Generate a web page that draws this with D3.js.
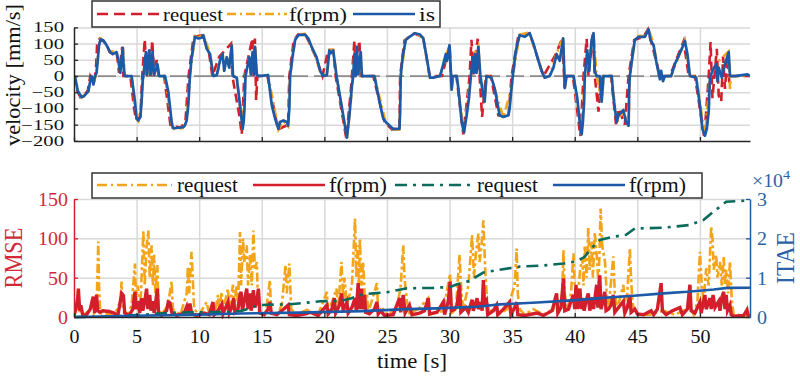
<!DOCTYPE html>
<html><head><meta charset="utf-8">
<script src="https://cdn.jsdelivr.net/npm/d3@7"></script>
<style>body{margin:0;background:#fff}svg{display:block}text{font-family:"Liberation Serif","Times New Roman",serif}</style>
</head><body><svg id="c" width="800" height="378"></svg>
<script>
// ---------- DATA ----------
const timeTicks = [0,5,10,15,20,25,30,35,40,45,50];
const velTicks = [-200,-150,-100,-50,0,50,100,150];
const rmseTicks = [0,50,100,150];
const itaeTicks = [0,10000,20000,30000];
const itaeTickLabels = ["0","1","2","3"];
const topLegend = ["request","f(rpm)","is"];
const bottomLegend = ["request","f(rpm)","request","f(rpm)"];

// velocity: request (red dashed)
const reqVel = [[0,0],[0.2,-40],[0.5,-65],[0.8,-60],[1.1,-45],[1.3,0],[1.6,-20],[1.75,20],[1.85,100],[2.05,115],[2.3,110],[2.6,95],[2.85,74],[3.1,68],[3.4,74],[3.6,10],[3.85,90],[3.95,0],[4.5,0],[4.8,-100],[4.95,-135],[5.3,-126],[5.45,0],[5.65,113],[5.8,0],[6.0,80],[6.1,0],[6.25,110],[6.4,0],[6.6,50],[6.75,0],[7.2,0],[7.7,-150],[8.5,-160],[8.9,-140],[9.15,0],[9.55,121],[10.3,126],[10.8,68],[11.05,0],[11.6,60],[12.55,100],[12.65,0],[13.2,-120],[13.4,-180],[13.6,0],[14.25,116],[14.35,0],[14.45,116],[14.55,-74],[14.65,0],[15.45,0],[16.3,-165],[17.1,-150],[17.2,0],[17.55,110],[17.9,128],[18.5,128],[19.3,60],[19.85,0],[20.3,80],[20.7,80],[20.9,0],[21.75,-192],[22.1,-50],[22.2,0],[22.4,110],[22.5,0],[22.8,110],[22.9,0],[23.9,0],[24.8,-140],[25.4,-165],[26.0,-160],[26.05,0],[26.4,110],[27.2,132],[27.9,118],[28.4,0],[29.4,0],[30.0,95],[30.15,-42],[30.25,0],[30.55,0],[31.1,-180],[31.6,0],[31.75,112],[31.9,0],[32.25,115],[32.4,0],[32.6,-126],[32.75,-60],[32.9,0],[33.3,0],[33.9,-121],[34.7,-126],[34.95,0],[35.5,126],[36.4,132],[37.5,0],[38.5,68],[39.0,116],[39.2,-37],[39.3,0],[39.85,0],[40.45,-185],[40.7,0],[40.95,115],[41.1,0],[41.45,132],[41.6,0],[41.9,-110],[42.05,0],[42.1,-79],[42.25,0],[42.9,0],[43.3,-150],[43.5,-100],[44.0,-150],[44.3,0],[44.75,111],[45.5,121],[45.85,144],[46.5,47],[46.8,0],[47.6,0],[48.7,108],[49.1,0],[49.6,0],[50.35,-190],[50.7,0],[50.85,105],[51.0,-68],[51.35,84],[51.5,-60],[51.7,-79],[51.85,60],[52.0,-40],[52.2,58],[52.35,-20],[52.45,0],[54,0]];

// velocity: f(rpm) (orange dash-dot)
const fVel = [[0,0],[0.3,-45],[0.6,-66],[1.15,-47],[1.4,0],[1.55,-26],[1.8,10],[2.0,97],[2.13,116],[2.34,112],[2.88,76],[3.4,76],[3.7,10],[3.9,88],[4.07,0],[4.6,0],[5.0,-133],[5.14,-139],[5.4,-79],[5.54,0],[5.75,76],[5.85,5],[6.02,80],[6.12,5],[6.28,76],[6.38,5],[6.66,38],[6.8,0],[7.27,0],[7.8,-144],[7.9,-163],[8.7,-160],[9.0,-139],[9.26,0],[9.66,123],[9.93,118],[10.33,128],[10.86,70],[11.13,0],[11.4,2],[11.87,70],[12.0,16],[12.2,60],[12.4,26],[12.6,97],[12.7,0],[13.0,-5],[13.47,-165],[13.7,0],[14.0,60],[14.13,5],[14.27,76],[14.38,5],[14.46,92],[14.6,5],[14.73,0],[15.5,3],[16.33,-165],[16.73,-139],[17.1,-155],[17.26,0],[17.66,113],[17.92,128],[18.45,130],[18.98,92],[19.66,16],[19.9,0],[20.2,3],[20.4,81],[20.7,81],[20.97,0],[21.8,-192],[22.0,-123],[22.3,0],[22.4,70],[22.5,0],[22.6,92],[22.7,5],[22.9,76],[23.0,0],[24.0,0],[24.9,-144],[25.5,-165],[26.0,-165],[26.1,0],[26.5,113],[27.24,134],[27.9,118],[28.44,-5],[29.24,0],[30.0,97],[30.17,-42],[30.25,0],[30.57,0],[31.15,-176],[31.7,0],[32.0,70],[32.3,92],[32.45,5],[32.8,-81],[32.95,0],[33.34,-5],[34.3,-128],[34.95,-37],[35.05,0],[35.6,128],[36.4,134],[37.1,49],[37.6,-5],[38.0,0],[38.55,70],[39.08,118],[39.2,-37],[39.35,0],[39.9,0],[40.55,-182],[40.8,0],[41.5,134],[41.75,0],[42.15,-79],[42.3,0],[42.95,0],[43.35,-144],[43.88,-107],[44.3,-155],[44.4,0],[44.8,113],[45.1,123],[45.6,123],[45.9,146],[46.3,97],[46.8,-10],[47.2,0],[47.7,0],[48.8,110],[49.2,0],[49.7,-5],[50.4,-186],[50.8,-5],[51.3,39],[52.3,76],[52.4,-40],[52.5,0],[54,0]];

// velocity: is (blue solid)
const isVel = [[0,0],[0.1,-5],[0.3,-45],[0.6,-65],[0.8,-62],[1.15,-47],[1.3,-15],[1.4,0],[1.5,-10],[1.55,-26],[1.65,-5],[1.8,10],[1.9,50],[2.0,95],[2.13,113],[2.34,110],[2.6,95],[2.88,74],[3.1,68],[3.4,74],[3.55,47],[3.7,10],[3.8,53],[3.9,87],[3.98,16],[4.07,0],[4.6,0],[4.87,-79],[5.0,-131],[5.14,-137],[5.3,-126],[5.4,-79],[5.48,-16],[5.54,0],[5.75,74],[5.85,5],[6.02,79],[6.12,5],[6.28,74],[6.38,5],[6.55,20],[6.66,37],[6.8,0],[7.27,0],[7.53,-47],[7.8,-142],[7.9,-161],[8.2,-160],[8.7,-158],[8.85,-153],[9.0,-137],[9.13,-90],[9.26,0],[9.4,58],[9.66,121],[9.93,116],[10.2,118],[10.33,126],[10.6,84],[10.86,68],[11.13,0],[11.4,2],[11.66,47],[11.87,68],[12.0,16],[12.2,58],[12.4,26],[12.6,95],[12.7,0],[13.0,-5],[13.26,-90],[13.47,-163],[13.55,-142],[13.62,-100],[13.7,0],[14.0,58],[14.13,5],[14.27,74],[14.38,5],[14.46,90],[14.6,5],[14.73,0],[15.5,3],[15.8,-90],[16.06,-131],[16.33,-163],[16.45,-142],[16.73,-137],[17.0,-142],[17.1,-153],[17.2,-100],[17.26,0],[17.45,58],[17.66,111],[17.92,126],[18.45,128],[18.72,116],[18.98,90],[19.38,58],[19.66,16],[19.9,0],[20.2,3],[20.4,79],[20.5,70],[20.7,79],[20.85,37],[20.97,0],[21.37,-90],[21.8,-190],[22.0,-121],[22.2,-30],[22.3,0],[22.4,68],[22.5,0],[22.6,90],[22.7,5],[22.9,74],[23.0,0],[24.0,0],[24.4,-79],[24.7,-131],[24.9,-142],[25.5,-163],[26.0,-163],[26.05,-110],[26.1,0],[26.25,58],[26.5,111],[26.8,121],[27.24,132],[27.64,128],[27.9,116],[28.17,58],[28.44,-5],[28.7,-5],[29.24,0],[29.5,37],[29.7,68],[29.8,47],[30.0,95],[30.1,16],[30.17,-42],[30.25,0],[30.57,0],[30.7,-37],[30.97,-142],[31.15,-174],[31.37,-121],[31.55,-68],[31.7,0],[31.85,58],[31.95,10],[32.0,68],[32.15,10],[32.3,90],[32.45,5],[32.6,-37],[32.8,-79],[32.95,0],[33.34,-5],[33.6,-37],[33.8,-79],[34.0,-121],[34.3,-126],[34.7,-121],[34.8,-100],[34.95,-37],[35.05,0],[35.3,79],[35.6,126],[36.0,121],[36.4,132],[36.7,100],[37.1,47],[37.35,16],[37.6,-5],[38.0,0],[38.3,26],[38.55,68],[38.8,47],[39.08,116],[39.2,-37],[39.35,0],[39.9,0],[40.2,-68],[40.4,-142],[40.55,-180],[40.65,-142],[40.75,-79],[40.8,0],[41.0,79],[41.15,16],[41.35,111],[41.5,132],[41.6,16],[41.75,0],[42.0,0],[42.15,-79],[42.3,0],[42.95,0],[43.1,-68],[43.35,-142],[43.5,-121],[43.88,-105],[44.1,-142],[44.3,-153],[44.35,-37],[44.4,0],[44.6,58],[44.8,111],[45.1,121],[45.6,121],[45.9,144],[46.05,111],[46.3,95],[46.5,47],[46.8,-10],[46.9,16],[47.05,-16],[47.2,0],[47.7,0],[48.0,37],[48.5,79],[48.8,108],[49.0,68],[49.2,0],[49.7,-5],[50.0,-90],[50.2,-163],[50.4,-184],[50.55,-163],[50.7,-110],[50.8,-5],[51.0,16],[51.3,37],[51.4,-16],[51.5,26],[51.75,-5],[52.0,37],[52.3,74],[52.4,0],[52.8,0],[53.8,5],[54,0]];

// RMSE request (orange dash-dot)
const rmseReq = [[0,2],[0.2,10],[0.35,36],[0.45,5],[0.8,3],[1.2,8],[1.54,20],[1.6,5],[1.8,10],[1.94,96],[2.0,40],[2.1,5],[2.5,3],[3.3,5],[3.7,20],[3.8,45],[3.9,10],[4.3,3],[4.6,15],[4.87,68],[4.95,20],[5.1,40],[5.3,10],[5.54,110],[5.65,40],[5.8,90],[5.94,110],[6.05,50],[6.2,91],[6.3,40],[6.4,79],[6.5,30],[6.66,66],[6.75,10],[7.0,3],[7.5,15],[7.67,32],[7.8,45],[7.9,10],[8.5,3],[9.0,30],[9.1,64],[9.2,30],[9.39,83],[9.5,45],[9.6,10],[10.0,3],[10.6,19],[10.8,3],[11.3,10],[11.5,28],[11.6,10],[11.8,32],[11.9,8],[12.3,36],[12.4,10],[12.7,41],[12.8,15],[12.99,40],[13.1,10],[13.26,108],[13.35,40],[13.5,100],[13.6,70],[13.8,91],[13.9,40],[14.06,79],[14.2,40],[14.33,110],[14.45,60],[14.6,70],[14.7,20],[14.8,5],[15.3,3],[15.65,47],[15.75,5],[16.2,3],[16.6,15],[16.9,66],[17.0,30],[17.2,68],[17.35,10],[17.8,3],[18.6,9],[19.5,3],[20.2,32],[20.3,5],[20.97,36],[21.1,10],[21.37,70],[21.5,20],[21.6,50],[21.8,15],[22.2,40],[22.45,125],[22.55,50],[22.65,91],[22.75,40],[22.84,100],[22.95,40],[23.1,70],[23.25,15],[23.4,30],[23.5,5],[24.2,43],[24.3,5],[24.7,10],[25.0,3],[25.8,10],[26.1,40],[26.3,91],[26.4,50],[26.6,20],[26.8,5],[27.5,10],[28.3,24],[28.4,3],[29.5,8],[30.04,55],[30.15,5],[30.5,10],[30.8,79],[30.95,30],[31.1,10],[31.5,40],[31.8,104],[31.95,50],[32.1,80],[32.3,106],[32.4,70],[32.55,90],[32.7,123],[32.85,60],[33.0,20],[33.2,5],[33.76,15],[33.9,3],[34.6,10],[34.8,20],[35.0,30],[35.2,40],[35.36,87],[35.45,30],[35.6,10],[36.0,3],[36.7,10],[37.5,3],[38.3,10],[38.55,28],[38.7,5],[39.0,30],[39.1,85],[39.2,30],[39.4,10],[39.7,30],[39.9,81],[40.0,40],[40.2,20],[40.42,58],[40.6,75],[40.7,40],[40.8,91],[40.95,50],[41.08,113],[41.2,60],[41.35,96],[41.45,50],[41.6,108],[41.75,79],[41.9,40],[42.07,138],[42.2,90],[42.42,70],[42.55,30],[42.7,10],[43.08,77],[43.2,30],[43.4,10],[43.88,41],[44.0,20],[44.2,30],[44.4,87],[44.5,50],[44.6,20],[44.8,5],[45.2,3],[46.0,3],[47.1,8],[48.0,3],[49.2,12],[49.5,3],[49.8,20],[50.0,83],[50.15,40],[50.3,20],[50.5,62],[50.7,40],[50.9,115],[51.0,100],[51.1,60],[51.3,79],[51.4,50],[51.6,70],[51.75,40],[51.9,77],[52.0,40],[52.1,60],[52.25,30],[52.4,70],[52.55,20],[52.7,3],[53.5,2],[54,3]];

// RMSE f(rpm) (red solid)
const rmseRpm = [[0,1],[0.2,15],[0.3,25],[0.35,36],[0.45,8],[0.55,15],[0.7,2],[1.0,3],[1.3,10],[1.45,20],[1.54,26],[1.65,5],[1.8,28],[1.9,8],[2.05,6],[2.3,8],[2.8,7],[3.2,5],[3.5,2],[3.65,15],[3.8,30],[3.95,27],[4.05,5],[4.4,2],[4.7,10],[4.87,32],[4.95,10],[5.1,20],[5.25,5],[5.4,24],[5.5,8],[5.65,20],[5.8,36],[5.9,10],[6.05,28],[6.15,8],[6.3,20],[6.4,5],[6.55,22],[6.66,36],[6.75,5],[7.0,2],[7.4,8],[7.53,19],[7.67,18],[7.8,6],[8.2,2],[8.8,5],[9.0,13],[9.1,5],[9.26,17],[9.4,4],[9.8,2],[10.4,5],[10.8,3],[11.1,19],[11.2,3],[11.5,8],[11.8,16],[11.9,4],[12.3,19],[12.4,5],[12.6,12],[12.75,24],[12.85,6],[13.1,10],[13.26,28],[13.35,32],[13.45,8],[13.6,20],[13.8,36],[13.9,10],[14.06,30],[14.15,8],[14.33,34],[14.45,12],[14.6,20],[14.73,36],[14.85,5],[15.2,3],[15.5,10],[15.65,19],[15.75,5],[16.2,3],[16.6,8],[17.1,15],[17.2,3],[17.8,2],[18.5,4],[18.85,6],[19.5,2],[20.2,15],[20.3,4],[20.6,10],[20.8,24],[20.9,5],[21.2,15],[21.37,30],[21.5,8],[21.8,19],[21.9,5],[22.2,12],[22.45,24],[22.55,8],[22.7,43],[22.8,10],[22.97,36],[23.05,10],[23.2,28],[23.3,6],[23.6,4],[24.0,10],[24.2,19],[24.3,4],[24.5,8],[24.8,2],[25.5,3],[26.0,24],[26.1,6],[26.3,28],[26.45,5],[26.8,15],[27.0,3],[27.6,5],[28.0,8],[28.3,24],[28.4,4],[29.0,6],[29.5,19],[29.6,3],[29.9,20],[30.04,45],[30.15,8],[30.4,10],[30.6,15],[30.8,41],[30.9,6],[31.3,12],[31.5,6],[31.8,22],[31.9,8],[32.2,24],[32.3,10],[32.5,19],[32.6,8],[32.7,47],[32.8,15],[32.95,20],[33.05,3],[33.5,8],[33.76,15],[33.85,3],[34.3,10],[34.8,19],[34.9,3],[35.2,12],[35.36,19],[35.45,3],[36.0,2],[37.0,5],[37.5,2],[38.2,8],[38.55,30],[38.65,5],[38.9,12],[39.1,49],[39.2,8],[39.5,10],[39.7,20],[39.9,28],[40.0,10],[40.1,41],[40.2,10],[40.42,36],[40.5,10],[40.6,24],[40.75,8],[40.9,20],[41.08,30],[41.2,8],[41.4,25],[41.5,10],[41.75,41],[41.85,12],[42.0,53],[42.1,10],[42.25,20],[42.4,32],[42.5,8],[42.7,10],[42.9,15],[43.08,28],[43.2,6],[43.5,12],[43.88,20],[44.0,5],[44.2,12],[44.4,28],[44.5,6],[44.8,10],[45.0,4],[45.5,3],[46.1,8],[46.3,3],[46.6,10],[46.9,43],[47.0,8],[47.3,3],[47.8,8],[48.4,12],[48.6,3],[49.0,10],[49.2,41],[49.3,8],[49.6,5],[50.0,19],[50.1,5],[50.4,28],[50.5,10],[50.8,24],[50.9,10],[51.05,28],[51.2,12],[51.5,20],[51.6,8],[51.75,25],[51.9,32],[52.0,10],[52.1,28],[52.2,8],[52.4,15],[52.5,3],[52.7,1],[53.5,2],[53.76,9],[53.85,2],[54,3]];

// ITAE request (teal dash-dot) and f(rpm) (blue solid)
const itaeReq = [[0,0],[3,100],[6,700],[8,1100],[10,1200],[12.5,1300],[13.3,1500],[14.0,2200],[14.6,3000],[15.5,3100],[17.5,3300],[19.7,4000],[21.3,4100],[22.1,4700],[23.1,5800],[23.9,6000],[25,6300],[26.6,7300],[28.7,7400],[30.0,7600],[30.6,8300],[31.6,9200],[32.7,11300],[33.76,11900],[35.6,12800],[37.5,13100],[39.1,13600],[40.1,14100],[40.8,15300],[41.2,17000],[42,19600],[43.08,20400],[44.1,20900],[44.8,22500],[47.1,22700],[49.2,23400],[50.3,24700],[51.1,26800],[52.1,29300],[53.7,29600],[54,29600]];
const itaeRpm = [[0,0],[5,300],[10,600],[13.3,900],[18,1100],[23,1500],[26.6,2000],[29,2200],[32.2,2600],[34,3200],[37,3700],[40.1,4300],[42,4800],[44.7,5400],[47.1,6000],[49,6400],[51.1,7000],[52.2,7400],[54,7450]];

// ---------- STYLE ----------
const FONT = "Liberation Serif, Times New Roman, serif";
const C = {red:"#d21f2b", orange:"#f3a41b", blue:"#1c5aa8", teal:"#0a6b5c", grid:"#d9d9d9", axis:"#262626", zero:"#8c8c8c", rmseLbl:"#d0293a", itaeLbl:"#2b62a6"};
const L = 74, R = 750;
const svg = d3.select("#c").attr("font-family", FONT);
const x = d3.scaleLinear().domain([0,54]).range([L,R]);
const yTop = d3.scaleLinear().domain([-200,150]).range([140.9,27.4]);
const yRmse = d3.scaleLinear().domain([0,150]).range([317,199]);
const yItae = d3.scaleLinear().domain([0,30000]).range([317,199]);

function fitAxisText(g, size, fill, sampleIdx, targetW, dx, anchor, dy) {
  const texts = g.selectAll(".tick text").attr("font-size", size).attr("fill", fill).attr("font-family", FONT);
  const w = texts.nodes()[sampleIdx].getComputedTextLength();
  const sx = targetW / w;
  texts.attr("transform", `scale(${sx},1)`).attr("x", dx / sx).attr("text-anchor", anchor);
  if (dy !== undefined) texts.attr("dy", dy);
}
function label(parent, txt, px, py, size, targetW, opt) {
  opt = opt || {};
  const t = parent.append("text").attr("font-size", size).attr("fill", opt.fill || "#111")
    .attr("font-family", FONT).attr("text-anchor", opt.anchor || "start").text(txt);
  const s = targetW / t.node().getComputedTextLength();
  t.attr("transform", opt.rot ? `translate(${px},${py}) rotate(-90) scale(${s},${opt.thick||1})`
                             : `translate(${px},${py}) scale(${s},1)`);
  return t;
}

const defs = svg.append("defs");
defs.append("clipPath").attr("id","clipTop").append("rect").attr("x",L).attr("y",20).attr("width",R-L).attr("height",125);
defs.append("clipPath").attr("id","clipBot").append("rect").attr("x",L).attr("y",195).attr("width",R-L).attr("height",124);

// ---------- TOP PANEL ----------
const topG = svg.append("g");
topG.append("g").attr("transform",`translate(0,${yTop(-200)})`)
  .call(d3.axisBottom(x).tickValues(timeTicks.slice(1)).tickSize(-(yTop(-200)-yTop(150))).tickFormat(""))
  .call(g=>{g.select(".domain").remove(); g.selectAll("line").attr("stroke",C.grid).attr("stroke-width",1.5);});
topG.append("g").attr("transform",`translate(${L},0)`)
  .call(d3.axisLeft(yTop).tickValues(velTicks.slice(1)).tickSize(-(R-L)).tickFormat(""))
  .call(g=>{g.select(".domain").remove(); g.selectAll("line").attr("stroke",C.grid).attr("stroke-width",1.5);});

const lineTop = d3.line().x(d=>x(d[0])).y(d=>yTop(d[1]));
const gt = topG.append("g").attr("clip-path","url(#clipTop)");
gt.append("path").datum([[0,0],[54,0]]).attr("d",lineTop).attr("fill","none").attr("stroke",C.zero).attr("stroke-width",1.8).attr("stroke-dasharray","18,6");
gt.append("path").datum(reqVel).attr("d",lineTop).attr("fill","none").attr("stroke",C.red).attr("stroke-width",2.6).attr("stroke-dasharray","9,5");
gt.append("path").datum(fVel).attr("d",lineTop).attr("fill","none").attr("stroke",C.orange).attr("stroke-width",2.6).attr("stroke-dasharray","9,4,2,4");
gt.append("path").datum(isVel).attr("d",lineTop).attr("fill","none").attr("stroke",C.blue).attr("stroke-width",2.7).attr("stroke-linejoin","round");

topG.append("g").attr("transform",`translate(${L},0)`)
  .call(d3.axisLeft(yTop).tickValues(velTicks).tickSizeInner(-4).tickSizeOuter(0))
  .call(g=>{g.select(".domain").attr("stroke",C.axis).attr("stroke-width",1.5); g.selectAll("line").attr("stroke",C.axis).attr("stroke-width",1.3);})
  .call(g=>fitAxisText(g,14,"#111",7,31,-10,"end"));
topG.append("g").attr("transform",`translate(0,${yTop(-200)})`)
  .call(d3.axisBottom(x).tickValues(timeTicks).tickSizeInner(-4).tickSizeOuter(0).tickFormat(""))
  .call(g=>{g.select(".domain").attr("stroke",C.axis).attr("stroke-width",1.5); g.selectAll("line").attr("stroke",C.axis).attr("stroke-width",1.3);});

label(svg,"velocity [mm/s]",20,75,22,142,{rot:true,anchor:"middle",thick:1});

const lt = svg.append("g");
lt.append("rect").attr("x",92).attr("y",1).attr("width",348).attr("height",26).attr("fill","#fff").attr("stroke","#333").attr("stroke-width",1.5);
const topLegStyles = [
  {x1:97,x2:160,tx:163,w:60,color:C.red,dash:"11,6"},
  {x1:227,x2:287,tx:289,w:58,color:C.orange,dash:"9,4,2,4"},
  {x1:353,x2:415,tx:419,w:16,color:C.blue,dash:null}];
topLegend.forEach((name,i)=>{
  const s = topLegStyles[i];
  const l = lt.append("line").attr("x1",s.x1).attr("x2",s.x2).attr("y1",14).attr("y2",14).attr("stroke",s.color).attr("stroke-width",2.6);
  if (s.dash) l.attr("stroke-dasharray",s.dash);
  label(lt,name,s.tx,20.5,18,s.w);
});

// ---------- BOTTOM PANEL ----------
const botG = svg.append("g");
botG.append("g").attr("transform",`translate(0,317)`)
  .call(d3.axisBottom(x).tickValues(timeTicks.slice(1)).tickSize(-(317-199)).tickFormat(""))
  .call(g=>{g.select(".domain").remove(); g.selectAll("line").attr("stroke",C.grid).attr("stroke-width",1.5);});
botG.append("g").attr("transform",`translate(${L},0)`)
  .call(d3.axisLeft(yRmse).tickValues(rmseTicks.slice(1)).tickSize(-(R-L)).tickFormat(""))
  .call(g=>{g.select(".domain").remove(); g.selectAll("line").attr("stroke",C.grid).attr("stroke-width",1.5);});

const lineRmse = d3.line().x(d=>x(d[0])).y(d=>yRmse(d[1]));
const lineItae = d3.line().x(d=>x(d[0])).y(d=>yItae(d[1]));
const gb = botG.append("g").attr("clip-path","url(#clipBot)");
gb.append("path").datum(rmseReq).attr("d",lineRmse).attr("fill","none").attr("stroke",C.orange).attr("stroke-width",2.6).attr("stroke-dasharray","9,3,3,3");
gb.append("path").datum(rmseRpm).attr("d",lineRmse).attr("fill","none").attr("stroke",C.red).attr("stroke-width",3.4).attr("stroke-linejoin","miter");
gb.append("path").datum(itaeReq).attr("d",lineItae).attr("fill","none").attr("stroke",C.teal).attr("stroke-width",2.6).attr("stroke-dasharray","12,6,3,6");
gb.append("path").datum(itaeRpm).attr("d",lineItae).attr("fill","none").attr("stroke",C.blue).attr("stroke-width",2.6);

botG.append("g").attr("transform",`translate(${L},0)`)
  .call(d3.axisLeft(yRmse).tickValues(rmseTicks).tickSizeInner(-4).tickSizeOuter(0))
  .call(g=>{g.select(".domain").attr("stroke",C.red).attr("stroke-width",1.5); g.selectAll("line").attr("stroke",C.red).attr("stroke-width",1.3);})
  .call(g=>fitAxisText(g,19,C.rmseLbl,3,30,-6,"end","0.35em"));
botG.append("g").attr("transform",`translate(${R},0)`)
  .call(d3.axisRight(yItae).tickValues(itaeTicks).tickSizeInner(-4).tickSizeOuter(0).tickFormat((d,i)=>itaeTickLabels[i]))
  .call(g=>{g.select(".domain").attr("stroke",C.blue).attr("stroke-width",1.5); g.selectAll("line").attr("stroke",C.blue).attr("stroke-width",1.3);})
  .call(g=>fitAxisText(g,19,C.itaeLbl,3,10,7,"start","0.35em"));
botG.append("g").attr("transform",`translate(0,317)`)
  .call(d3.axisBottom(x).tickValues(timeTicks).tickSizeInner(-4).tickSizeOuter(0))
  .call(g=>{g.select(".domain").attr("stroke",C.axis).attr("stroke-width",1.5); g.selectAll("line").attr("stroke",C.axis).attr("stroke-width",1.3);
    g.selectAll(".tick text").attr("y",26).attr("dy",0);})
  .call(g=>fitAxisText(g,19,"#111",2,20,0,"middle"));

label(svg,"time [s]",412,368,20,70,{anchor:"middle"});
label(svg,"RMSE",22,258,22,61,{rot:true,anchor:"middle",fill:C.rmseLbl,thick:1.12});
label(svg,"ITAE",794,258,22,52,{rot:true,anchor:"middle",fill:C.itaeLbl,thick:1.12});
const mult = svg.append("text").attr("transform","translate(752,187) scale(1.1,1)").attr("font-size",18).attr("fill",C.itaeLbl);
mult.append("tspan").text("×10");
mult.append("tspan").attr("font-size",13).attr("dy",-8).text("4");

const lb = svg.append("g");
lb.append("rect").attr("x",92).attr("y",173).attr("width",610).attr("height",25).attr("fill","#fff").attr("stroke","#333").attr("stroke-width",1.5);
const botLegStyles = [
  {x1:97,x2:172,tx:177,w:61,color:C.orange,dash:"10,4,2,4"},
  {x1:253,x2:325,tx:329,w:58,color:C.red,dash:null},
  {x1:395,x2:472,tx:477,w:61,color:C.teal,dash:"12,6,3,6"},
  {x1:553,x2:625,tx:629,w:57,color:C.blue,dash:null}];
bottomLegend.forEach((name,i)=>{
  const s = botLegStyles[i];
  const l = lb.append("line").attr("x1",s.x1).attr("x2",s.x2).attr("y1",185).attr("y2",185).attr("stroke",s.color).attr("stroke-width",2.6);
  if (s.dash) l.attr("stroke-dasharray",s.dash);
  label(lb,name,s.tx,192,20,s.w);
});
</script></body></html>
